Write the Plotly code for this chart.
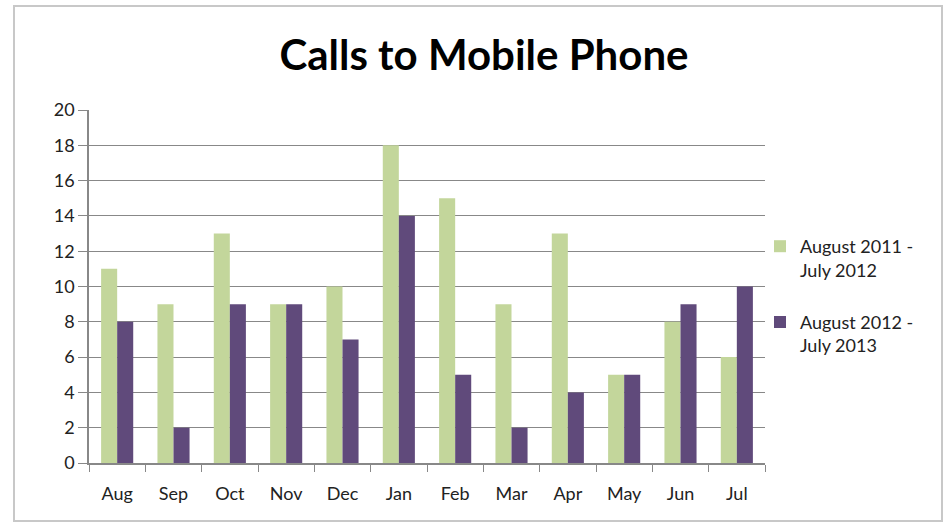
import plotly.graph_objects as go

months = ["Aug", "Sep", "Oct", "Nov", "Dec", "Jan", "Feb", "Mar", "Apr", "May", "Jun", "Jul"]
series_2011 = [11, 9, 13, 9, 10, 18, 15, 9, 13, 5, 8, 6]
series_2012 = [8, 2, 9, 9, 7, 14, 5, 2, 4, 5, 9, 10]
name_2011 = "August 2011 -<br>July 2012"
name_2012 = "August 2012 -<br>July 2013"
y_ticks = list(range(0, 21, 2))

W, H = 945, 522
L, R, T, B = 89, 180, 110, 59
pw, ph = W - L - R, H - T - B

fig = go.Figure()
fig.add_trace(go.Bar(x=months, y=series_2011, name=name_2011, marker_color="#c3d69b",
                     marker_line_width=0, legendgroup="a"))
fig.add_trace(go.Bar(x=months, y=series_2012, name=name_2012, marker_color="#604a7b",
                     marker_line_width=0, legendgroup="b"))

font = "Lato, 'Open Sans', sans-serif"
fig.update_layout(
    width=W, height=H,
    margin=dict(l=L, r=R, t=T, b=B),
    paper_bgcolor="white", plot_bgcolor="white",
    barmode="group", bargap=0.43, bargroupgap=0,
    title=dict(text="<b>Calls to Mobile Phone</b>", x=484 / W, xanchor="center",
               y=1 - 55 / H, yanchor="middle",
               font=dict(family=font, size=42, color="black")),
    font=dict(family=font, size=18, color="#222"),
    legend=dict(x=(760 - L) / pw, y=(H - B - 228) / ph, xanchor="left", yanchor="top",
                font=dict(size=18, color="#222"), tracegroupgap=26, itemwidth=30,
                valign="top", bgcolor="rgba(0,0,0,0)"),
    showlegend=True,
)
fig.update_xaxes(showline=True, linecolor="#888", linewidth=1.5, ticks="outside",
                 ticklen=7, tickcolor="#888", tickson="boundaries", showgrid=False,
                 ticklabelstandoff=14, tickfont=dict(size=18, color="#222"))
fig.update_yaxes(range=[0, 20], tickvals=y_ticks, showline=True, linecolor="#888",
                 linewidth=1.5, ticks="outside", ticklen=9, tickcolor="#888",
                 showgrid=True, gridcolor="#888", gridwidth=1.2, zeroline=False,
                 tickfont=dict(size=18, color="#222"))

# outer chart border
fig.add_shape(type="rect", xref="paper", yref="paper",
              x0=(14 - L) / pw, x1=(942 - L) / pw,
              y0=(H - B - 521) / ph, y1=(H - B - 6) / ph,
              line=dict(color="#c8c8c8", width=2), layer="below")

fig.write_html("out.html")
